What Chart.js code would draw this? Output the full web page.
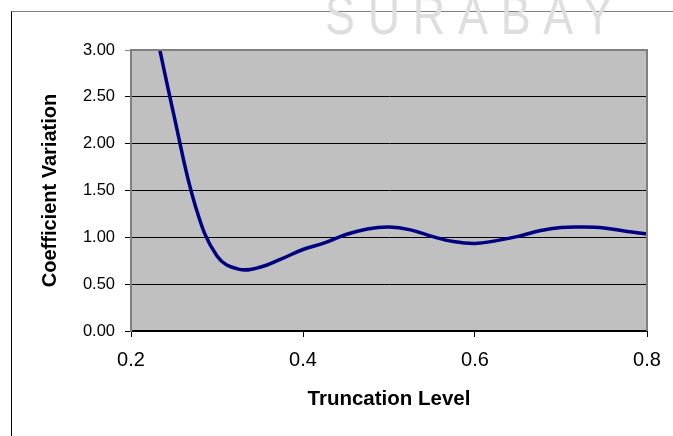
<!DOCTYPE html>
<html>
<head>
<meta charset="utf-8">
<script src="https://cdn.jsdelivr.net/npm/chart.js@4"></script>
<style>
  html, body { margin: 0; padding: 0; background: #fff; }
  #wrap { position: relative; width: 673px; height: 436px; overflow: hidden; }
  #frame { position: absolute; left: 11px; top: 11px; right: -2px; bottom: -2px;
           border-left: 1px solid #000; border-top: 1px solid #7f7f7f; }
  #mark { position: absolute; left: 325px; top: -18px; white-space: nowrap;
          font-family: "Liberation Sans", Arial, sans-serif; font-weight: 300;
          font-size: 56px; letter-spacing: 16px; color: #dedede;
          transform: scaleX(0.8); transform-origin: left top; }
  canvas { position: absolute; left: 0; top: 0; }
</style>
</head>
<body>
<div id="wrap">
  <div id="frame"></div>
  <div id="mark">SURABAY</div>
  <canvas id="c" width="673" height="436"></canvas>
</div>
<script>
// Coefficient of variation against truncation level
const truncation = [0.225, 0.25, 0.275, 0.3, 0.325, 0.35, 0.375, 0.4, 0.425, 0.45, 0.475, 0.5,
                    0.525, 0.55, 0.575, 0.6, 0.625, 0.65, 0.675, 0.7, 0.725, 0.75, 0.775, 0.8];
const coefVariation = [3.37, 2.30, 1.33, 0.80, 0.66, 0.68, 0.77, 0.87, 0.94, 1.03, 1.09, 1.11,
                       1.08, 1.01, 0.955, 0.935, 0.965, 1.01, 1.07, 1.105, 1.11, 1.10, 1.065, 1.035];
const xTicks = [0.2, 0.4, 0.6, 0.8];
const yTicks = [0, 0.5, 1.0, 1.5, 2.0, 2.5, 3.0];

const FONT = 'Arial, "Liberation Sans", sans-serif';

const plotFrame = {
  id: 'plotFrame',
  beforeDraw(chart) {
    const a = chart.chartArea, ctx = chart.ctx;
    ctx.save();
    ctx.fillStyle = '#c0c0c0';
    ctx.fillRect(a.left, a.top, a.right - a.left, a.bottom - a.top);
    ctx.restore();
  },
  afterDatasetsDraw(chart) {
    const a = chart.chartArea, ctx = chart.ctx;
    ctx.save();
    ctx.strokeStyle = '#808080';
    ctx.lineWidth = 2;
    ctx.beginPath();
    ctx.moveTo(a.left, a.top);
    ctx.lineTo(a.right, a.top);
    ctx.lineTo(a.right, a.bottom);
    ctx.stroke();
    ctx.restore();
  }
};

new Chart(document.getElementById('c'), {
  type: 'scatter',
  data: {
    datasets: [{
      data: truncation.map((t, i) => ({ x: t, y: coefVariation[i] })),
      showLine: true,
      borderColor: '#000080',
      borderWidth: 3.5,
      pointRadius: 0,
      tension: 0.4,
      clip: 0
    }]
  },
  options: {
    responsive: false,
    animation: false,
    events: [],
    layout: { padding: { top: 50, right: 26, left: 0, bottom: 0 } },
    plugins: { legend: { display: false }, tooltip: { enabled: false } },
    scales: {
      x: {
        type: 'linear', min: 0.2, max: 0.8,
        afterBuildTicks: s => { s.ticks = xTicks.map(v => ({ value: v })); },
        afterFit: s => { s.height = 105; },
        ticks: {
          color: '#000', padding: 11,
          font: { family: FONT, size: 20 },
          callback: v => v.toFixed(1)
        },
        grid: { drawOnChartArea: false, color: '#000', tickLength: 6 },
        border: { color: '#000', width: 2 },
        title: {
          display: true, text: 'Truncation Level', color: '#000',
          font: { family: FONT, size: 20.5, weight: 'bold' },
          padding: { top: 0, bottom: 24 }
        }
      },
      y: {
        min: 0, max: 3,
        afterBuildTicks: s => { s.ticks = yTicks.map(v => ({ value: v })); },
        afterFit: s => { s.width = 131; },
        ticks: {
          color: '#000', padding: 10,
          font: { family: FONT, size: 16.5 },
          callback: v => v.toFixed(2)
        },
        grid: {
          color: c => (c.tick && c.tick.value === 3 ? '#808080' : '#000'),
          lineWidth: 1, tickLength: 6
        },
        border: { color: '#808080', width: 2 },
        title: {
          display: true, text: 'Coefficient Variation', color: '#000',
          font: { family: FONT, size: 20, weight: 'bold' },
          padding: { top: 38, bottom: 0 }
        }
      }
    }
  },
  plugins: [plotFrame]
});
</script>
</body>
</html>
